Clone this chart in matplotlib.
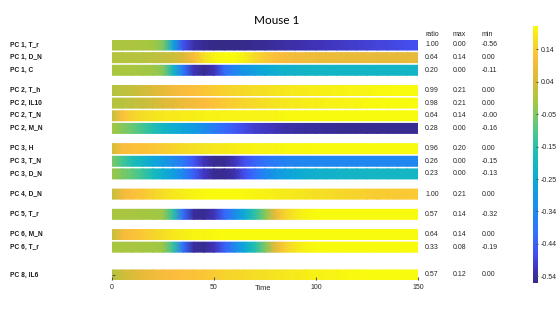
import numpy as np
import matplotlib.pyplot as plt
from matplotlib.colors import LinearSegmentedColormap

plt.rcParams['font.family'] = ['Liberation Sans', 'DejaVu Sans']

# sample times (every 5 time units)
time = np.arange(0, 151, 5)

labels = ['PC 1, T_r', 'PC 1, D_N', 'PC 1, C',
          'PC 2, T_h', 'PC 2, IL10', 'PC 2, T_N', 'PC 2, M_N',
          'PC 3, H', 'PC 3, T_N', 'PC 3, D_N',
          'PC 4, D_N', 'PC 5, T_r',
          'PC 6, M_N', 'PC 6, T_r',
          'PC 8, IL6']
ratio_col = ['1.00', '0.64', '0.20', '0.99', '0.98', '0.64', '0.28', '0.96',
             '0.26', '0.23', '1.00', '0.57', '0.64', '0.33', '0.57']
max_col = ['0.00', '0.14', '0.00', '0.21', '0.21', '0.14', '0.00', '0.20',
           '0.00', '0.00', '0.21', '0.14', '0.14', '0.08', '0.12']
min_col = ['-0.56', '0.00', '-0.11', '0.00', '0.00', '-0.00', '-0.16', '0.00',
           '-0.15', '-0.13', '0.00', '-0.32', '0.00', '-0.19', '0.00']

# scaled values along time (colour scale of the colorbar)
pc1_t_r = [-0.01, -0.01, -0.01, -0.015, -0.02, -0.06, -0.26, -0.47, -0.53, -0.55,
           -0.56, -0.56, -0.56, -0.555, -0.55, -0.545, -0.54, -0.535, -0.53, -0.525,
           -0.52, -0.515, -0.51, -0.505, -0.50, -0.495, -0.49, -0.485, -0.48, -0.475, -0.47]
pc1_d_n = [0.0, 0.0, 0.0, 0.005, 0.01, 0.02, 0.03, 0.05, 0.11, 0.165,
           0.2, 0.21, 0.21, 0.19, 0.16, 0.135, 0.12, 0.105, 0.095, 0.09,
           0.085, 0.08, 0.08, 0.075, 0.075, 0.075, 0.07, 0.07, 0.07, 0.07, 0.07]
pc1_c = [-0.015, -0.015, -0.015, -0.02, -0.025, -0.05, -0.2, -0.39, -0.52, -0.55,
         -0.52, -0.42, -0.35, -0.31, -0.28, -0.25, -0.23, -0.22, -0.215, -0.21,
         -0.21, -0.21, -0.21, -0.21, -0.21, -0.21, -0.21, -0.21, -0.21, -0.21, -0.21]
pc2_t_h = [0.0, 0.01, 0.02, 0.035, 0.05, 0.07, 0.09, 0.11, 0.12, 0.13,
           0.14, 0.148, 0.155, 0.16, 0.165, 0.17, 0.175, 0.18, 0.185, 0.188,
           0.19, 0.193, 0.196, 0.198, 0.2, 0.2, 0.205, 0.205, 0.21, 0.21, 0.21]
pc2_il10 = [0.0, 0.005, 0.015, 0.025, 0.035, 0.05, 0.065, 0.085, 0.1, 0.115,
            0.125, 0.135, 0.145, 0.155, 0.16, 0.17, 0.175, 0.18, 0.185, 0.19,
            0.19, 0.195, 0.195, 0.2, 0.2, 0.205, 0.205, 0.21, 0.21, 0.21, 0.21]
pc2_t_n = [0.02, 0.12, 0.15, 0.165, 0.175, 0.18, 0.185, 0.19, 0.19, 0.195,
           0.195, 0.2, 0.2, 0.2, 0.2, 0.2, 0.2, 0.205, 0.205, 0.205,
           0.205, 0.21, 0.21, 0.21, 0.21, 0.21, 0.21, 0.21, 0.21, 0.21, 0.21]
pc2_m_n = [-0.02, -0.05, -0.08, -0.12, -0.16, -0.2, -0.23, -0.26, -0.29, -0.33,
           -0.38, -0.42, -0.45, -0.48, -0.5, -0.51, -0.52, -0.53, -0.535, -0.54,
           -0.54, -0.545, -0.545, -0.55, -0.55, -0.55, -0.55, -0.55, -0.55, -0.55, -0.55]
pc3_h = [0.04, 0.11, 0.12, 0.125, 0.13, 0.14, 0.15, 0.16, 0.17, 0.175,
         0.18, 0.185, 0.19, 0.195, 0.2, 0.2, 0.2, 0.205, 0.205, 0.205,
         0.21, 0.21, 0.21, 0.21, 0.21, 0.21, 0.21, 0.21, 0.21, 0.21, 0.21]
pc3_t_n = [-0.06, -0.12, -0.17, -0.21, -0.25, -0.29, -0.34, -0.39, -0.46, -0.52,
           -0.55, -0.55, -0.52, -0.47, -0.43, -0.4, -0.38, -0.36, -0.355, -0.35,
           -0.35, -0.35, -0.35, -0.35, -0.35, -0.35, -0.35, -0.35, -0.35, -0.35, -0.35]
pc3_d_n = [-0.03, -0.06, -0.09, -0.13, -0.18, -0.23, -0.28, -0.35, -0.44, -0.51,
           -0.55, -0.55, -0.53, -0.47, -0.41, -0.35, -0.3, -0.27, -0.25, -0.235,
           -0.225, -0.22, -0.215, -0.21, -0.21, -0.205, -0.205, -0.2, -0.2, -0.2, -0.2]
pc4_d_n = [0.02, 0.09, 0.12, 0.13, 0.15, 0.165, 0.18, 0.19, 0.2, 0.205,
           0.21, 0.21, 0.21, 0.205, 0.2, 0.195, 0.19, 0.185, 0.18, 0.175,
           0.17, 0.165, 0.16, 0.155, 0.15, 0.145, 0.14, 0.14, 0.135, 0.135, 0.135]
pc5_t_r = [-0.015, -0.015, -0.015, -0.02, -0.02, -0.03, -0.15, -0.42, -0.54, -0.55,
           -0.52, -0.43, -0.34, -0.24, -0.15, -0.05, 0.08, 0.15, 0.185, 0.2,
           0.21, 0.21, 0.21, 0.21, 0.21, 0.21, 0.21, 0.21, 0.21, 0.21, 0.21]
pc6_m_n = [0.02, 0.1, 0.12, 0.135, 0.15, 0.165, 0.18, 0.19, 0.2, 0.2,
           0.205, 0.21, 0.21, 0.21, 0.21, 0.21, 0.21, 0.21, 0.21, 0.21,
           0.21, 0.21, 0.21, 0.21, 0.21, 0.21, 0.21, 0.21, 0.21, 0.21, 0.21]
pc6_t_r = [-0.015, -0.015, -0.015, -0.02, -0.02, -0.03, -0.14, -0.41, -0.54, -0.55,
           -0.52, -0.44, -0.35, -0.25, -0.16, -0.06, 0.07, 0.145, 0.18, 0.2,
           0.21, 0.21, 0.21, 0.21, 0.21, 0.21, 0.21, 0.21, 0.21, 0.21, 0.21]
pc8_il6 = [0.0, 0.03, 0.05, 0.07, 0.09, 0.105, 0.115, 0.12, 0.125, 0.13,
           0.14, 0.15, 0.155, 0.16, 0.165, 0.17, 0.175, 0.18, 0.185, 0.19,
           0.195, 0.2, 0.2, 0.205, 0.205, 0.21, 0.21, 0.21, 0.21, 0.21, 0.21]

rows = [pc1_t_r, pc1_d_n, pc1_c, pc2_t_h, pc2_il10, pc2_t_n, pc2_m_n,
        pc3_h, pc3_t_n, pc3_d_n, pc4_d_n, pc5_t_r, pc6_m_n, pc6_t_r, pc8_il6]

cbar_labels = ['-0.54', '-0.44', '-0.34', '-0.25', '-0.15', '-0.05', '0.04', '0.14']
vmin, vmax = -0.56, 0.21

# parula-like colormap
parula = LinearSegmentedColormap.from_list('parula', [
    (0.00, (0.208, 0.166, 0.529)),
    (0.05, (0.250, 0.200, 0.720)),
    (0.12, (0.270, 0.320, 0.960)),
    (0.20, (0.190, 0.450, 0.990)),
    (0.30, (0.100, 0.560, 0.920)),
    (0.40, (0.050, 0.660, 0.850)),
    (0.50, (0.100, 0.740, 0.720)),
    (0.60, (0.330, 0.790, 0.520)),
    (0.70, (0.640, 0.780, 0.260)),
    (0.80, (0.880, 0.730, 0.220)),
    (0.88, (0.990, 0.740, 0.240)),
    (0.95, (0.960, 0.880, 0.140)),
    (1.00, (0.976, 0.983, 0.054))])

fig = plt.figure(figsize=(5.6, 3.15), dpi=100)
ax = fig.add_axes([112/560, 1-280/315, 306/560, 240/315])

pitch, gap, half = 12.64, 7.57, 5.0
txt = dict(fontsize=5, color='#262626', va='center', ha='left', clip_on=False)
for i, (lab, vals) in enumerate(zip(labels, rows)):
    pc = int(lab.split(',')[0].split()[1])
    yc = i * pitch + (pc - 1) * gap
    C = np.vstack([vals, vals])
    mesh = ax.pcolormesh(time, [yc - half, yc + half], C, shading='gouraud',
                         cmap=parula, vmin=vmin, vmax=vmax)
    tr = ax.get_yaxis_transform()
    ax.text(-0.333, yc, lab, transform=tr, fontsize=4.8, fontweight='bold',
            color='#1a1a1a', va='center', ha='left')
    ax.text(1.023, yc, ratio_col[i], transform=tr, **txt)
    ax.text(1.114, yc, max_col[i], transform=tr, **txt)
    ax.text(1.209, yc, min_col[i], transform=tr, **txt)

tr = ax.get_yaxis_transform()
ax.text(1.023, -11, 'ratio', transform=tr, **txt)
ax.text(1.114, -11, 'max', transform=tr, **txt)
ax.text(1.209, -11, 'min', transform=tr, **txt)

ax.set_xlim(0, 150)
ax.set_ylim(235, -5)
for s in ax.spines.values():
    s.set_visible(False)
ax.set_xticks([0, 50, 100, 150])
ax.set_yticks([yc])
ax.set_yticklabels([])
ax.tick_params(axis='x', direction='in', length=2, labelsize=5, pad=3,
               color='#555555', labelcolor='#262626')
ax.tick_params(axis='y', direction='in', length=2, color='#555555')

fig.text(263/560, 1-289/315, 'Time', ha='center', va='center', fontsize=5.4, color='#262626')
fig.text(277/560, 1-20/315, 'Mouse 1', ha='center', va='center', fontsize=8.5,
         family=['Lato', 'DejaVu Sans'])

# colorbar
cax = fig.add_axes([533/560, 1-283/315, 5/560, 257/315])
cb = fig.colorbar(mesh, cax=cax)
cb.set_ticks(np.linspace(-0.54, 0.14, 8))
cb.set_ticklabels(cbar_labels)
cb.outline.set_visible(False)
cax.tick_params(direction='in', length=1.5, labelsize=5, pad=2,
                color='#555555', labelcolor='#262626')

fig.savefig('out.png', dpi=100)
